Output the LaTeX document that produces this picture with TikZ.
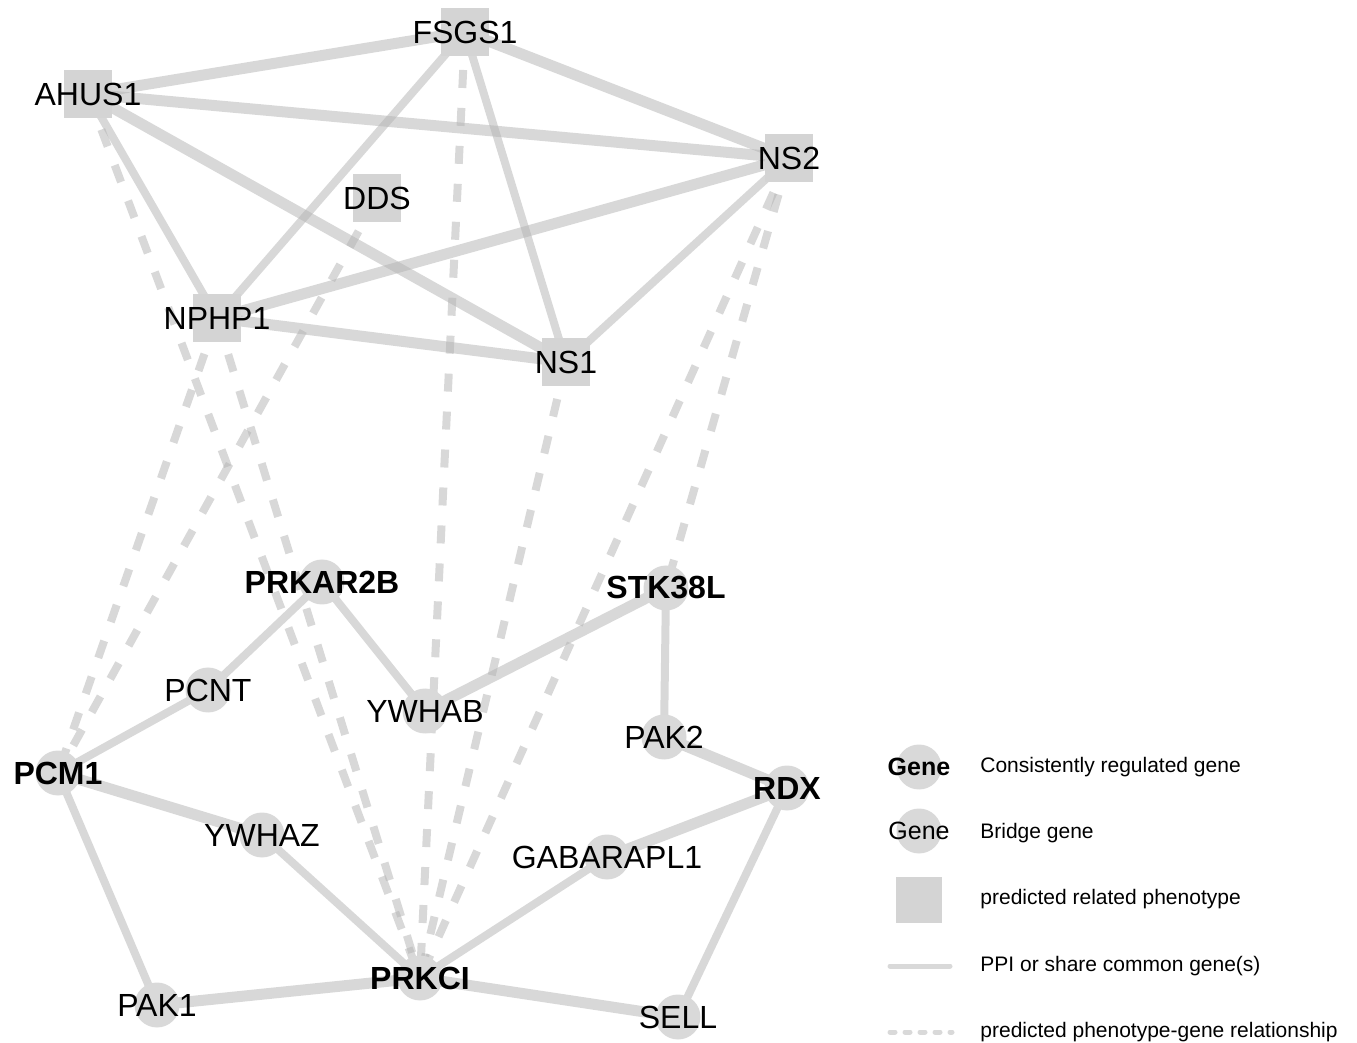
\documentclass[tikz,border=0pt]{standalone}
\usepackage{fontspec}
\setmainfont{Liberation Sans}
\usetikzlibrary{positioning}
\pgfdeclarelayer{background}
\pgfsetlayers{background,main}

\begin{document}
\begin{tikzpicture}[
  x=0.5pt, y=-0.5pt,
  lbl/.style={font=\fontsize{16}{18}\selectfont, inner sep=0pt},
  genedot/.style={circle, fill=black!15, minimum size=22.5pt, inner sep=0pt},
  hubgene/.style={genedot, label={[lbl, font=\fontsize{16}{18}\selectfont\bfseries]center:#1}},
  bridgegene/.style={genedot, label={[lbl]center:#1}},
  phenobox/.style={rectangle, fill=black!17, minimum size=24pt, inner sep=0pt,
                   label={[lbl]center:#1}},
  ppi/.style={line width=4pt, draw=black!30, opacity=0.5},
  ppithick/.style={ppi, line width=5.5pt},
  pred/.style={line width=4pt, draw=black!30, opacity=0.5, dash pattern=on 9pt off 10pt},
  keytext/.style={anchor=west, font=\fontsize{10.5}{12}\selectfont, inner sep=0pt,
                  text height=1.6ex, text depth=0.4ex}
]
  \useasboundingbox (0,0) rectangle (1357,1043);

  % phenotypes
  \node[phenobox=FSGS1] (fsgs1) at (465,32)  {};
  \node[phenobox=AHUS1] (ahus1) at (88,94)   {};
  \node[phenobox=NS2]   (ns2)   at (789,158) {};
  \node[phenobox=DDS]   (dds)   at (377,198) {};
  \node[phenobox=NPHP1] (nphp1) at (217,318) {};
  \node[phenobox=NS1]   (ns1)   at (566,362) {};

  % genes
  \node[hubgene=PRKAR2B]      (prkar2b) at (322,582)  {};
  \node[hubgene=STK38L]       (stk38l)  at (666,588)  {};
  \node[bridgegene=PCNT]      (pcnt)    at (208,690)  {};
  \node[bridgegene=YWHAB]     (ywhab)   at (425,711)  {};
  \node[bridgegene=PAK2]      (pak2)    at (664,737)  {};
  \node[hubgene=PCM1]         (pcm1)    at (58,773)   {};
  \node[hubgene=RDX]          (rdx)     at (787,788)  {};
  \node[bridgegene=YWHAZ]     (ywhaz)   at (262,835)  {};
  \node[bridgegene=GABARAPL1] (gabarapl1) at (607,857) {};
  \node[hubgene=PRKCI]        (prkci)   at (420,978)  {};
  \node[bridgegene=PAK1]      (pak1)    at (157,1005) {};
  \node[bridgegene=SELL]      (sell)    at (678,1017) {};

  \begin{pgfonlayer}{background}
    % phenotype links
    \draw[ppithick] (ahus1.center) -- (fsgs1.center);
    \draw[ppithick] (ahus1.center) -- (ns2.center);
    \draw[ppi]      (ahus1.center) -- (nphp1.center);
    \draw[ppithick] (ahus1.center) -- (ns1.center);
    \draw[ppithick] (fsgs1.center) -- (ns2.center);
    \draw[ppi]      (fsgs1.center) -- (nphp1.center);
    \draw[ppi]      (fsgs1.center) -- (ns1.center);
    \draw[ppithick] (ns2.center)   -- (nphp1.center);
    \draw[ppi]      (ns2.center)   -- (ns1.center);
    \draw[ppithick] (nphp1.center) -- (ns1.center);

    % gene links
    \draw[ppi]      (prkar2b.center) -- (pcnt.center);
    \draw[ppi]      (prkar2b.center) -- (ywhab.center);
    \draw[ppithick] (ywhab.center)   -- (stk38l.center);
    \draw[ppi]      (stk38l.center)  -- (pak2.center);
    \draw[ppithick] (pak2.center)    -- (rdx.center);
    \draw[ppithick] (rdx.center)     -- (gabarapl1.center);
    \draw[ppi]      (rdx.center)     -- (sell.center);
    \draw[ppi]      (gabarapl1.center) -- (prkci.center);
    \draw[ppithick] (prkci.center)   -- (sell.center);
    \draw[ppithick] (prkci.center)   -- (pak1.center);
    \draw[ppi]      (prkci.center)   -- (ywhaz.center);
    \draw[ppithick] (ywhaz.center)   -- (pcm1.center);
    \draw[ppi]      (pcm1.center)    -- (pcnt.center);
    \draw[ppi]      (pcm1.center)    -- (pak1.center);

    % predicted phenotype-gene
    \draw[pred] (ahus1.center) -- (prkci.center);
    \draw[pred] (nphp1.center) -- (pcm1.center);
    \draw[pred] (nphp1.center) -- (prkci.center);
    \draw[pred] (dds.center)   -- (pcm1.center);
    \draw[pred] (fsgs1.center) -- (prkci.center);
    \draw[pred] (ns1.center)   -- (prkci.center);
    \draw[pred] (ns2.center)   -- (prkci.center);
    \draw[pred] (ns2.center)   -- (stk38l.center);
  \end{pgfonlayer}

  % legend
  \node[genedot, label={[font=\fontsize{12.5}{14}\selectfont\bfseries]center:Gene}] (keyhub) at (919,767) {};
  \node[keytext] (keyhubtxt) at (980,766) {Consistently regulated gene};
  \node[genedot, label={[font=\fontsize{12.5}{14}\selectfont]center:Gene}] (keybridge) at (919,831) {};
  \node[keytext] (keybridgetxt) at (980,832) {Bridge gene};
  \node[rectangle, fill=black!17, minimum size=23pt, inner sep=0pt] (keypheno) at (919,900) {};
  \node[keytext] (keyphenotxt) at (980,898) {predicted related phenotype};
  \coordinate (keyppia) at (890,966);
  \coordinate (keyppib) at (950,966);
  \draw[line width=2.5pt, draw=black!15, line cap=round] (keyppia) -- (keyppib);
  \node[keytext] (keyppitxt) at (980,965) {PPI or share common gene(s)};
  \coordinate (keypreda) at (890,1032);
  \coordinate (keypredb) at (952,1032);
  \draw[line width=2.5pt, draw=black!15, line cap=round, dash pattern=on 2.5pt off 5pt] (keypreda) -- (keypredb);
  \node[keytext] (keypredtxt) at (980,1031) {predicted phenotype-gene relationship};
\end{tikzpicture}
\end{document}
